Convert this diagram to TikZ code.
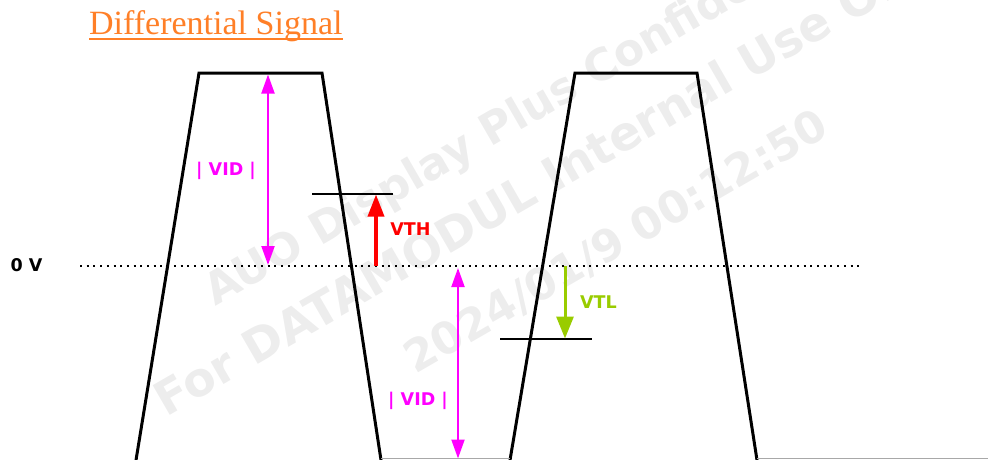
\documentclass[tikz,border=0pt]{standalone}
\usepackage{fontspec}
\setmainfont{Liberation Serif}
\newfontfamily\lblfont{DejaVu Sans}
\usetikzlibrary{arrows.meta}
\definecolor{titleorange}{HTML}{FF7F27}
\definecolor{vidmag}{HTML}{FF00FF}
\definecolor{vthred}{HTML}{FF0000}
\definecolor{vtlgreen}{HTML}{99CC00}
\definecolor{wmgray}{HTML}{EDEDED}
\definecolor{edgegray}{HTML}{A8A8A8}
\begin{document}
\begin{tikzpicture}[x=1pt,y=-1pt,
  wave/.style={line width=3pt, line join=miter},
  baseedge/.style={edgegray, line width=1.2pt},
  level/.style={line width=1.5pt},
  zeroline/.style={line width=2pt, dash pattern=on 2pt off 4.7pt},
  lbl/.style={inner sep=0pt, anchor=base, font=\lblfont\bfseries\fontsize{17.5}{20}\selectfont},
  wm/.style={inner sep=0pt, anchor=base west, rotate=30, text=wmgray, font=\lblfont\bfseries\fontsize{44}{50}\selectfont},
  vidarrow/.style={vidmag, line width=2pt, {Triangle[length=19pt,width=13pt]}-{Triangle[length=19pt,width=13pt]}},
  vtharrow/.style={vthred, line width=3.5pt, -{Triangle[length=22pt,width=16pt]}},
  vtlarrow/.style={vtlgreen, line width=3pt, -{Triangle[length=22pt,width=17pt]}}
]
\useasboundingbox (0,0) rectangle (988,459);
% watermark
\node[wm] (wm1) at (215,307) {AUO Display Plus Confidential};
\node[wm, font=\lblfont\bfseries\fontsize{47}{52}\selectfont] (wm2) at (166,418) {For DATAMODUL Internal Use Only};
\node[wm] (wm3) at (415,375) {2024/01/9 00:12:50};
% title
\node[inner sep=0pt, anchor=base west, text=titleorange, font=\fontsize{34}{40}\selectfont] (title) at (89,34) {Differential Signal};
\draw[titleorange, line width=1.5pt] ([yshift=-5pt]title.base west) -- ([yshift=-5pt]title.base east);
% zero line
\coordinate (z0) at (80,266);
\coordinate (z1) at (862,266);
\draw[zeroline] (z0) -- (z1);
\node[lbl] (zlabel) at (26.5,271.5) {0 V};
% waveform
\coordinate (w0) at (135.7,462);
\coordinate (w1) at (199,73);
\coordinate (w2) at (322,73);
\coordinate (w3) at (381.3,462);
\coordinate (w4) at (509.7,462);
\coordinate (w5) at (575,73);
\coordinate (w6) at (697,73);
\coordinate (w7) at (757.3,462);
\draw[wave] (w0) -- (w1) -- (w2) -- (w3);
\draw[wave] (w4) -- (w5) -- (w6) -- (w7);
\coordinate (b0) at (381,458.6);
\coordinate (b1) at (510,458.6);
\coordinate (b2) at (757,458.6);
\coordinate (b3) at (990,458.6);
\draw[baseedge] (b0) -- (b1);
\draw[baseedge] (b2) -- (b3);
% threshold levels
\coordinate (th0) at (312,194);
\coordinate (th1) at (393,194);
\draw[level] (th0) -- (th1);
\coordinate (tl0) at (500,339);
\coordinate (tl1) at (592,339);
\draw[level] (tl0) -- (tl1);
% VTH arrow
\coordinate (vthbot) at (376,266);
\coordinate (vthtop) at (376,194.5);
\draw[vtharrow] (vthbot) -- (vthtop);
\node[lbl, text=vthred] (vthlabel) at (410.5,235) {VTH};
% VTL arrow
\coordinate (vtltop) at (565,266);
\coordinate (vtlbot) at (565,338.5);
\draw[vtlarrow] (vtltop) -- (vtlbot);
\node[lbl, text=vtlgreen] (vtllabel) at (598.5,308) {VTL};
% VID arrows
\coordinate (vid1top) at (268,74.5);
\coordinate (vid1bot) at (268,265);
\draw[vidarrow] (vid1top) -- (vid1bot);
\node[lbl, text=vidmag] (vid1label) at (226,175) {| VID |};
\coordinate (vid2top) at (458,268);
\coordinate (vid2bot) at (458,458.5);
\draw[vidarrow] (vid2top) -- (vid2bot);
\node[lbl, text=vidmag] (vid2label) at (418,405.5) {| VID |};
\end{tikzpicture}
\end{document}
